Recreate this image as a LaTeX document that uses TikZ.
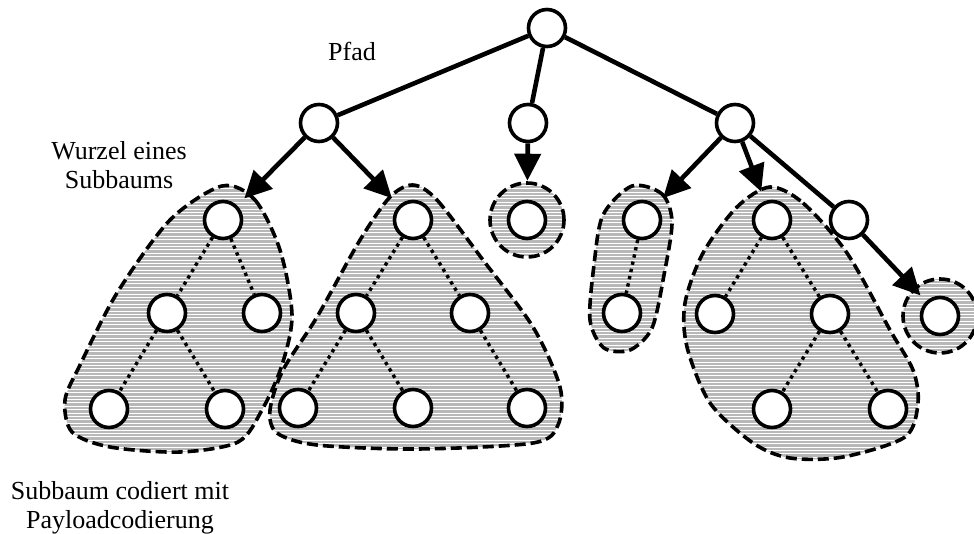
\documentclass[tikz,border=0pt]{standalone}
\usepackage{fontspec}
\setmainfont{Liberation Serif}
\usetikzlibrary{arrows.meta}

% gray area hatched with thin white horizontal lines, with a dashed outline
\newcommand\hatchblob[1]{%
  \fill[blobfill] #1;
  \begin{scope}
    \clip #1;
    \foreach \yy in {175,178.4,...,470}
      \draw[hatchline] (0,\yy) -- (974,\yy);
  \end{scope}
  \draw[blobedge] #1;
}

\begin{document}
\begin{tikzpicture}[x=1pt,y=-1pt,
  treenode/.style={circle,draw=black,fill=white,line width=3.6pt,minimum size=37pt,inner sep=0pt},
  pathedge/.style={line width=4.6pt},
  subarrow/.style={line width=4.6pt,-{Triangle[length=27pt,width=26pt]},shorten >=10pt},
  subedge/.style={line width=3.4pt,dash pattern=on 3.4pt off 4pt},
  blobfill/.style={fill=black!28},
  hatchline/.style={draw=white,line width=0.8pt},
  blobedge/.style={draw=black,line width=3.6pt,dash pattern=on 11pt off 5pt},
  label/.style={font=\fontsize{26}{29}\selectfont,align=center,inner sep=0pt}]
\useasboundingbox (0,0) rectangle (974,533);

% shaded subtrees
\hatchblob{plot[smooth cycle] coordinates {(222,186) (255,200) (280,250) (292,315) (282,365) (262,410) (238,442) (180,452) (110,447) (72,432) (65,400) (80,365) (117,293) (170,220)}}
\hatchblob{plot[smooth cycle] coordinates {(413,185) (437,200) (483,260) (533,327) (560,387) (558,425) (533,443) (417,449) (317,445) (277,433) (270,410) (283,370) (317,317) (360,240) (390,197)}}
\hatchblob{(527,220) circle (37pt)}
\hatchblob{plot[smooth cycle] coordinates {(632,186) (662,194) (672,222) (664,275) (652,328) (630,350) (604,348) (590,320) (594,265) (603,215)}}
\hatchblob{plot[smooth cycle] coordinates {(770,187) (803,203) (847,253) (890,330) (913,370) (918,403) (905,437) (843,457) (790,458) (753,443) (710,403) (687,347) (685,303) (703,253) (737,207)}}
\hatchblob{(940,316) circle (37pt)}

% nodes
\node[treenode] (root) at (547,28) {};
\node[treenode] (pL) at (319,123) {};
\node[treenode] (pM) at (528,123) {};
\node[treenode] (pR) at (735,123) {};
\node[treenode] (x1) at (849,220) {};

\node[treenode] (a1) at (223,220) {};
\node[treenode] (a2) at (167,313) {};
\node[treenode] (a3) at (262,313) {};
\node[treenode] (a4) at (109,409) {};
\node[treenode] (a5) at (225,409) {};

\node[treenode] (b1) at (413,220) {};
\node[treenode] (b2) at (356,313) {};
\node[treenode] (b3) at (470,313) {};
\node[treenode] (b4) at (298,408) {};
\node[treenode] (b5) at (413,408) {};
\node[treenode] (b6) at (527,408) {};

\node[treenode] (c1) at (527,220) {};

\node[treenode] (d1) at (642,220) {};
\node[treenode] (d2) at (622,313) {};

\node[treenode] (e1) at (772,220) {};
\node[treenode] (e2) at (715,314) {};
\node[treenode] (e3) at (830,314) {};
\node[treenode] (e4) at (772,409) {};
\node[treenode] (e5) at (888,409) {};

\node[treenode] (f1) at (940,316) {};

% edges inside the subtrees
\draw[subedge] (a1) -- (a2);
\draw[subedge] (a1) -- (a3);
\draw[subedge] (a2) -- (a4);
\draw[subedge] (a2) -- (a5);
\draw[subedge] (b1) -- (b2);
\draw[subedge] (b1) -- (b3);
\draw[subedge] (b2) -- (b4);
\draw[subedge] (b2) -- (b5);
\draw[subedge] (b3) -- (b6);
\draw[subedge] (d1) -- (d2);
\draw[subedge] (e1) -- (e2);
\draw[subedge] (e1) -- (e3);
\draw[subedge] (e3) -- (e4);
\draw[subedge] (e3) -- (e5);

% path edges
\draw[pathedge] (root) -- (pL);
\draw[pathedge] (root) -- (pM);
\draw[pathedge] (root) -- (pR);
\draw[pathedge] (pR) -- (x1);

% arrows to subtree roots
\draw[subarrow] (pL) -- (a1);
\draw[subarrow] (pL) -- (b1);
\draw[subarrow,shorten >=19pt] (pM) -- (c1);
\draw[subarrow] (pR) -- (d1);
\draw[subarrow] (pR) -- (e1);
\draw[subarrow,shorten >=8pt] (x1) -- (f1);

% labels
\node[label] (pfad) at (352,51) {Pfad};
\node[label] (wurzel) at (119,165) {Wurzel eines\\Subbaums};
\node[label] (codiert) at (120,508) {Subbaum codiert mit\\Payloadcodierung};
\end{tikzpicture}
\end{document}
